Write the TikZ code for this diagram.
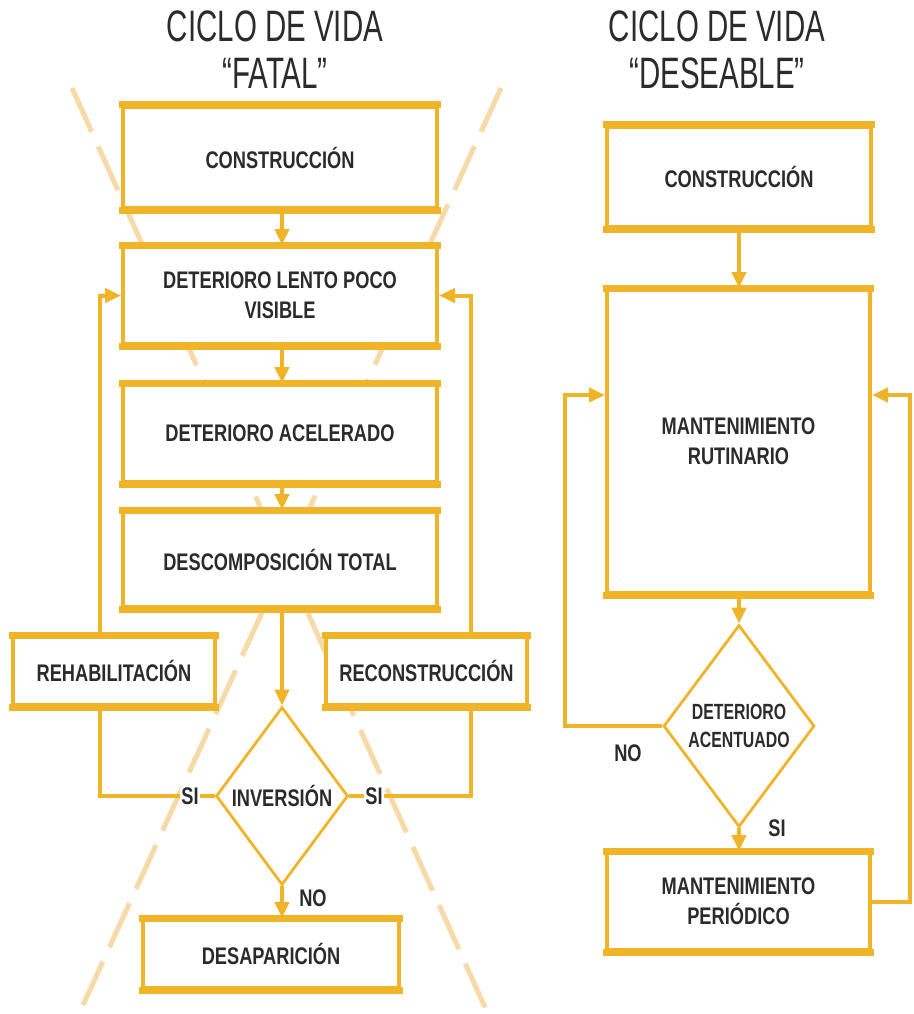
\documentclass[tikz,border=0pt]{standalone}
\usepackage{fontspec}
\setmainfont{Liberation Sans}
\newfontfamily\bfont{Liberation Sans}[FakeStretch=0.76]
\newfontfamily\dfont{Liberation Sans}[FakeStretch=0.72]
\newfontfamily\tfont{Liberation Sans}[FakeStretch=0.67]
\usetikzlibrary{arrows.meta,shapes.geometric}
\definecolor{gold}{HTML}{F0B429}
\definecolor{peach}{HTML}{F8D9A8}
\definecolor{ink}{HTML}{2B2B2B}
\newcommand\btxt{\bfont\bfseries\fontsize{24}{30}\selectfont}
\newcommand\dtxt{\dfont\bfseries\fontsize{22}{28}\selectfont}
\newcommand\ttxt{\tfont\fontsize{44}{47}\selectfont}
\begin{document}
\begin{tikzpicture}[x=1pt,y=-1pt,
  box/.style={draw=gold,line width=4pt,fill=white,inner sep=0pt,text=ink,font=\btxt,align=center},
  dia/.style={draw=gold,line width=2.8pt,fill=white,diamond,inner sep=0pt},
  conn/.style={draw=gold,line width=4pt},
  arr/.style={conn,-{Triangle[length=16pt,width=14pt]}},
  lbl/.style={text=ink,font=\btxt,inner sep=1pt},
  xline/.style={draw=peach,line width=5pt,dash pattern=on 48pt off 16pt},
  ttl/.style={text=ink,font=\ttxt,align=center}
]
\fill[white] (0,0) rectangle (913,1014);
\useasboundingbox (0,0) rectangle (913,1014);

% the cross over the "fatal" cycle
\coordinate (xa1) at (72,88);
\coordinate (xa2) at (488,1014);
\coordinate (xb1) at (501,88);
\coordinate (xb2) at (79,1014);
\draw[xline] (xa1) -- (xa2);
\draw[xline] (xb1) -- (xb2);

% titles
\node[ttl] (t1) at (275,50) {CICLO DE VIDA\\“FATAL”};
\node[ttl] (t2) at (717,50) {CICLO DE VIDA\\“DESEABLE”};

% left column
\node[box,minimum width=314pt,minimum height=101pt] (c1) at (280,157.5) {CONSTRUCCIÓN};
\node[box,minimum width=314pt,minimum height=97pt] (d1) at (280,295.5) {DETERIORO LENTO POCO\\VISIBLE};
\node[box,minimum width=314pt,minimum height=97pt] (d2) at (280,433.5) {DETERIORO ACELERADO};
\node[box,minimum width=314pt,minimum height=95pt] (d3) at (280,559.5) {DESCOMPOSICIÓN TOTAL};
\node[box,minimum width=202pt,minimum height=68pt] (rehab) at (114,671) {REHABILITACIÓN};
\node[box,minimum width=201pt,minimum height=68pt] (recon) at (426.5,671) {RECONSTRUCCIÓN};
\node[dia,minimum width=132pt,minimum height=178pt,
      label={[text=ink,font=\btxt]center:INVERSIÓN}] (inv) at (282,796) {};
\node[box,minimum width=256pt,minimum height=68pt] (desap) at (271,954) {DESAPARICIÓN};

% right column
\node[box,minimum width=264pt,minimum height=100pt] (c2) at (739,177) {CONSTRUCCIÓN};
\node[box,minimum width=263pt,minimum height=303pt] (mr) at (738.5,441.5) {MANTENIMIENTO\\RUTINARIO};
\node[dia,minimum width=151pt,minimum height=202pt,
      label={[text=ink,font=\dtxt,align=center]center:{DETERIORO\\ACENTUADO}}] (da) at (739,726) {};
\node[box,minimum width=263pt,minimum height=97pt] (mp) at (738.5,901.5) {MANTENIMIENTO\\PERIÓDICO};

% thicker top and bottom edges of the boxes
\foreach \n in {c1,d1,d2,d3,rehab,recon,desap,c2,mr,mp}{
  \draw[gold,line width=7pt,shorten <=-2pt,shorten >=-2pt] (\n.north west) -- (\n.north east);
  \draw[gold,line width=7pt,shorten <=-2pt,shorten >=-2pt] (\n.south west) -- (\n.south east);
}

% left connectors
\draw[arr] (c1.south -| inv.north) -- (d1.north -| inv.north);
\draw[arr] (d1.south -| inv.north) -- (d2.north -| inv.north);
\draw[arr] (d2.south -| inv.north) -- (d3.north -| inv.north);
\draw[arr] (d3.south -| inv.north) -- (inv.north);
\draw[arr] (inv.south) -- (inv.south |- desap.north);

\coordinate (lk) at (100,796);
\coordinate (rk) at (471,796);
\draw[conn] (inv.west) -- (lk) -- (lk |- rehab.south);
\draw[arr] (lk |- rehab.north) |- (d1.west);
\draw[conn] (inv.east) -- (rk) -- (rk |- recon.south);
\draw[arr] (rk |- recon.north) |- (d1.east);

\node[lbl,fill=white] (si1) at (190,796) {SI};
\node[lbl,fill=white] (si2) at (374,796) {SI};
\node[lbl] (no1) at (313,898) {NO};

% right connectors
\draw[arr] (c2.south -| da.north) -- (mr.north -| da.north);
\draw[arr] (mr.south -| da.north) -- (da.north);
\draw[arr] (da.south) -- (mp.north -| da.south);

\coordinate (rc) at (910,395);
\draw[arr] (da.west) -| (565,395) -- (mr.west |- rc);
\draw[arr] (mp.east) -| (rc) -- (mr.east |- rc);

\node[lbl] (no2) at (628,753) {NO};
\node[lbl] (si3) at (777,828) {SI};
\end{tikzpicture}
\end{document}
